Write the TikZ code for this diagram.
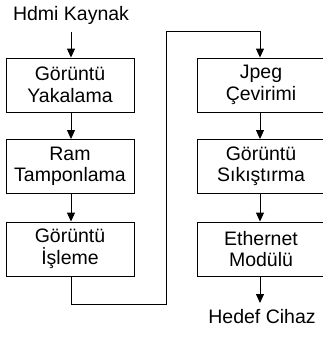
\documentclass[tikz,border=0pt]{standalone}
\usepackage{fontspec}
\setmainfont{Liberation Sans}
\usetikzlibrary{arrows.meta, positioning}
\tikzset{
    block/.style={rectangle, minimum width=128pt, minimum height=54pt, inner sep=0pt, align=center, draw=black, line width=0.9pt, font=\fontsize{19.5}{21.5}\selectfont},
    caption/.style={inner sep=0pt, font=\fontsize{19.5}{21.5}\selectfont},
    arrow/.style={line width=0.9pt, -{Triangle[width=8pt, length=9pt]}}
}
\begin{document}
\begin{tikzpicture}[x=1pt, y=-1pt]
    \useasboundingbox (0,0) rectangle (323,338);

    \node (src) [caption] at (71, 15) {Hdmi Kaynak};

    \node (capture) [block] at (70, 85) {Görüntü\\Yakalama};
    \node (buffer) [block] at (70, 166.5) {Ram\\Tamponlama};
    \node (process) [block] at (70, 249) {Görüntü\\İşleme};

    \node (jpeg) [block] at (261, 85) {Jpeg\\Çevirimi};
    \node (compress) [block] at (261, 166.5) {Görüntü\\Sıkıştırma};
    \node (ether) [block] at (261, 249) {Ethernet\\Modülü};

    \node (dst) [caption] at (262, 317) {Hedef Cihaz};

    % connector between the two columns
    \coordinate (srcend) at (71, 32);
    \coordinate (c1) at (71, 304);
    \coordinate (c2) at (166, 304);
    \coordinate (c3) at (166, 31);
    \coordinate (c4) at (260, 31);
    \coordinate (dstend) at (260, 303);

    \draw [arrow] (srcend) -- (capture.north -| srcend);
    \draw [arrow] (capture.south -| srcend) -- (buffer.north -| srcend);
    \draw [arrow] (buffer.south -| srcend) -- (process.north -| srcend);
    \draw [line width=0.9pt] (process.south -| c1) -- (c1) -- (c2) -- (c3) -- (c4);
    \draw [arrow] (c4) -- (jpeg.north -| c4);
    \draw [arrow] (jpeg.south -| c4) -- (compress.north -| c4);
    \draw [arrow] (compress.south -| c4) -- (ether.north -| c4);
    \draw [arrow] (ether.south -| c4) -- (dstend);
\end{tikzpicture}
\end{document}
